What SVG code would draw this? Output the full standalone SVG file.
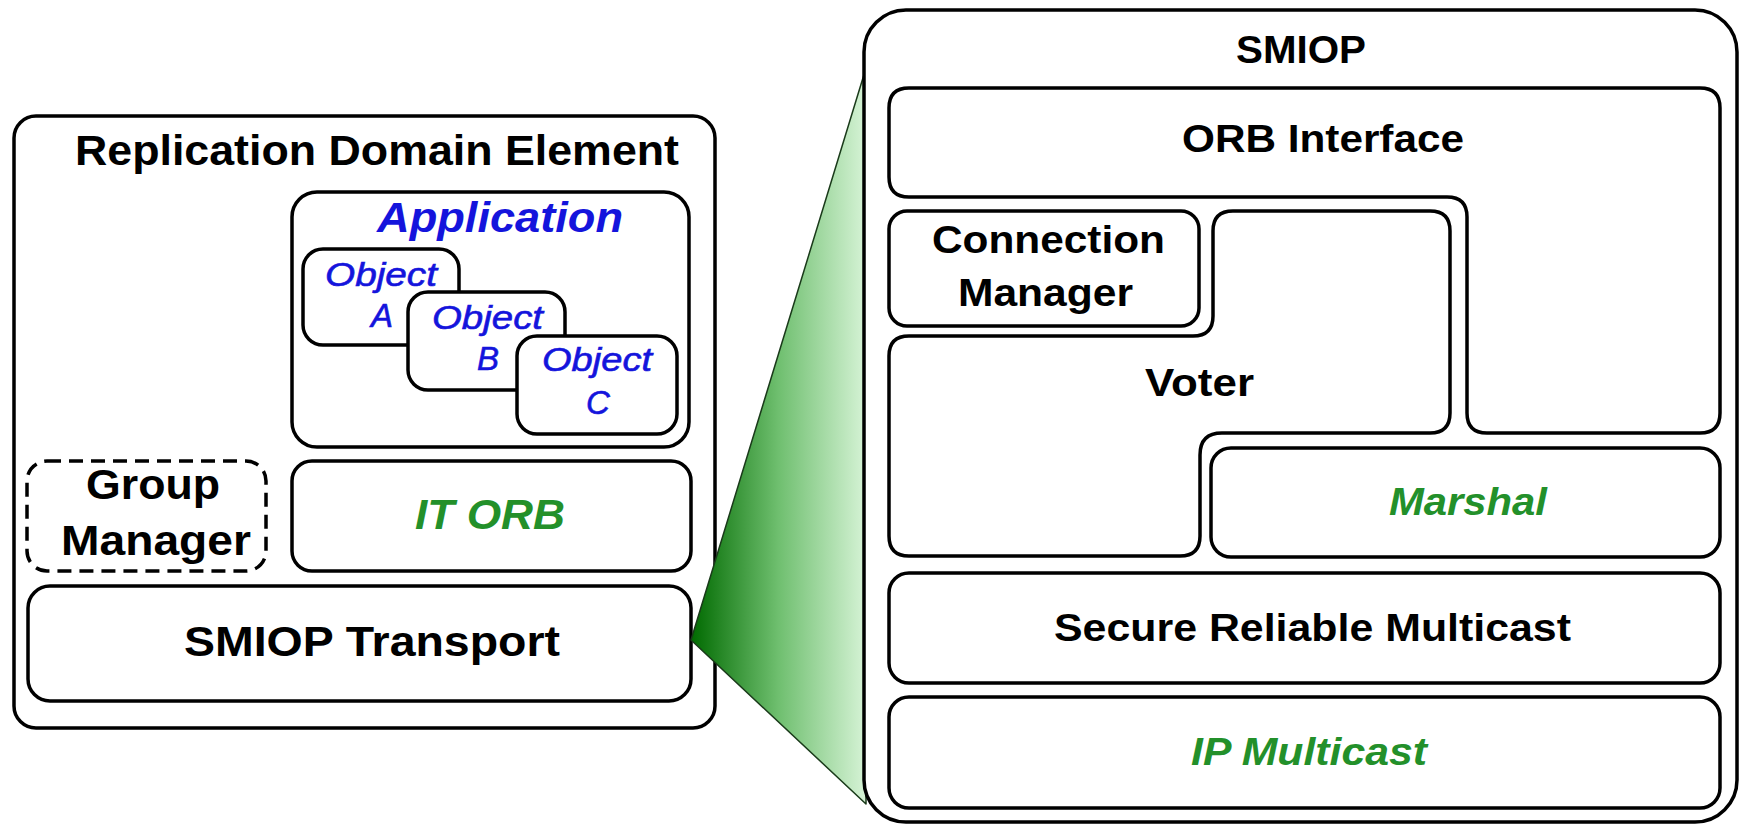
<svg xmlns="http://www.w3.org/2000/svg" width="1742" height="825" viewBox="0 0 1742 825">
  <defs>
    <linearGradient id="zoomFill" x1="691" y1="0" x2="866" y2="0" gradientUnits="userSpaceOnUse">
      <stop offset="0" stop-color="#006a00"/>
      <stop offset="0.5" stop-color="#6fbf6f"/>
      <stop offset="1" stop-color="#d6f3d6"/>
    </linearGradient>
    <style>
      .box { fill: #ffffff; stroke: #000000; stroke-width: 3.5; }
      .dash { fill: #ffffff; stroke: #000000; stroke-width: 3.5; stroke-dasharray: 14 8; }
      .t { font-family: "Liberation Sans", Arial, sans-serif; font-weight: bold; fill: #000000; }
      .lg { font-size: 42px; }
      .rg { font-size: 38px; }
      .blue { fill: #1414dc; font-style: italic; }
      .obj { font-family: "Liberation Sans", Arial, sans-serif; font-style: italic; font-size: 33px; fill: #1414dc; stroke: #1414dc; stroke-width: 0.6; }
      .green { fill: #23902a; font-style: italic; }
    </style>
  </defs>

  <rect width="1742" height="825" fill="#ffffff"/>

  <!-- left: replication domain element -->
  <g id="replication-domain-element">
    <rect class="box" x="14" y="116" width="701" height="612" rx="22"/>
    <text class="t lg" x="75" y="165" textLength="604" lengthAdjust="spacingAndGlyphs">Replication Domain Element</text>
  </g>

  <g id="application">
    <rect class="box" x="292" y="192" width="397" height="255" rx="25"/>
    <text class="t blue" font-size="43" x="377" y="232" textLength="246" lengthAdjust="spacingAndGlyphs">Application</text>
  </g>

  <g id="object-a">
    <rect class="box" x="303" y="249" width="156" height="96" rx="20"/>
    <text class="obj" x="325" y="286" textLength="112" lengthAdjust="spacingAndGlyphs">Object</text>
    <text class="obj" x="382" y="327" text-anchor="middle">A</text>
  </g>

  <g id="object-b">
    <rect class="box" x="408" y="292" width="157" height="98" rx="20"/>
    <text class="obj" x="432" y="329" textLength="111" lengthAdjust="spacingAndGlyphs">Object</text>
    <text class="obj" x="488" y="370" text-anchor="middle">B</text>
  </g>

  <g id="object-c">
    <rect class="box" x="517" y="336" width="160" height="98" rx="20"/>
    <text class="obj" x="542" y="371" textLength="110" lengthAdjust="spacingAndGlyphs">Object</text>
    <text class="obj" x="598" y="414" text-anchor="middle">C</text>
  </g>

  <g id="group-manager">
    <rect class="dash" x="27" y="461" width="239" height="110" rx="20"/>
    <text class="t lg" x="86" y="499" textLength="134" lengthAdjust="spacingAndGlyphs">Group</text>
    <text class="t lg" x="61" y="555" textLength="190" lengthAdjust="spacingAndGlyphs">Manager</text>
  </g>

  <g id="it-orb">
    <rect class="box" x="292" y="461" width="399" height="110" rx="20"/>
    <text class="t lg green" x="415" y="529" textLength="150" lengthAdjust="spacingAndGlyphs">IT ORB</text>
  </g>

  <g id="smiop-transport">
    <rect class="box" x="28" y="586" width="663" height="115" rx="22"/>
    <text class="t lg" x="184" y="656" textLength="376" lengthAdjust="spacingAndGlyphs">SMIOP Transport</text>
  </g>

  <!-- zoom wedge from the transport layer to the SMIOP detail -->
  <g id="connectors">
    <polygon points="691,640 866,68 866,804" fill="url(#zoomFill)" stroke="#1a3a1a" stroke-width="1.5" stroke-linejoin="round"/>
  </g>

  <!-- right: SMIOP layer stack -->
  <g id="smiop">
    <rect class="box" x="864" y="10" width="873" height="812" rx="42"/>
    <text class="t rg" x="1236" y="63" textLength="130" lengthAdjust="spacingAndGlyphs">SMIOP</text>
  </g>

  <g id="orb-interface">
    <path class="box" d="M 909,88 H 1700 Q 1720,88 1720,108 V 413 Q 1720,433 1700,433 H 1487 Q 1467,433 1467,413 V 217 Q 1467,197 1447,197 H 909 Q 889,197 889,177 V 108 Q 889,88 909,88 Z"/>
    <text class="t rg" x="1182" y="152" textLength="282" lengthAdjust="spacingAndGlyphs">ORB Interface</text>
  </g>

  <g id="connection-manager">
    <rect class="box" x="889" y="211" width="310" height="115" rx="18"/>
    <text class="t rg" x="932" y="253" textLength="233" lengthAdjust="spacingAndGlyphs">Connection</text>
    <text class="t rg" x="958" y="306" textLength="175" lengthAdjust="spacingAndGlyphs">Manager</text>
  </g>

  <g id="voter">
    <path class="box" d="M 1233,211 H 1430 Q 1450,211 1450,231 V 413 Q 1450,433 1430,433 H 1222 Q 1200,433 1200,455 V 536 Q 1200,556 1180,556 H 909 Q 889,556 889,536 V 356 Q 889,336 909,336 H 1193 Q 1213,336 1213,316 V 231 Q 1213,211 1233,211 Z"/>
    <text class="t rg" x="1145" y="396" textLength="109" lengthAdjust="spacingAndGlyphs">Voter</text>
  </g>

  <g id="marshal">
    <rect class="box" x="1211" y="448" width="509" height="109" rx="20"/>
    <text class="t rg green" x="1389" y="515" textLength="158" lengthAdjust="spacingAndGlyphs">Marshal</text>
  </g>

  <g id="secure-reliable-multicast">
    <rect class="box" x="889" y="573" width="831" height="110" rx="20"/>
    <text class="t rg" x="1054" y="641" textLength="517" lengthAdjust="spacingAndGlyphs">Secure Reliable Multicast</text>
  </g>

  <g id="ip-multicast">
    <rect class="box" x="889" y="697" width="831" height="111" rx="20"/>
    <text class="t rg green" x="1191" y="765" textLength="236" lengthAdjust="spacingAndGlyphs">IP Multicast</text>
  </g>
</svg>
